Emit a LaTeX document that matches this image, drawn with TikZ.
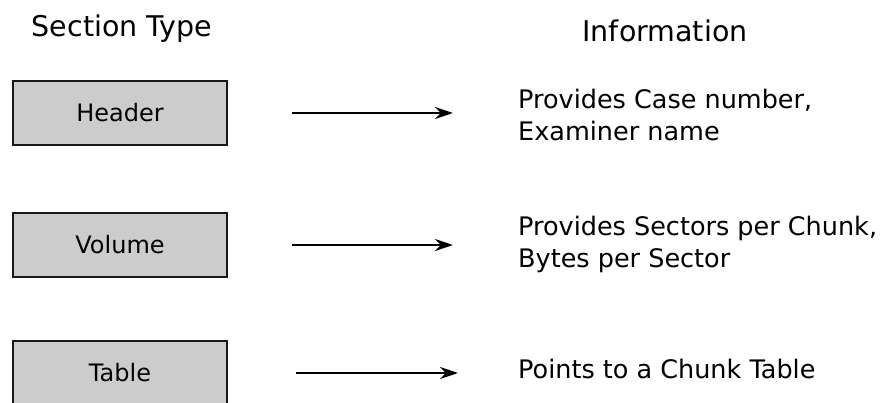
\documentclass[tikz,border=0pt]{standalone}
\usepackage{fontspec}
\setmainfont{DejaVu Sans}
\usetikzlibrary{arrows.meta}
\begin{document}
\begin{tikzpicture}[x=1pt,y=-1pt,
        secbox/.style={draw=black!90,fill=black!20,line width=2.4pt,minimum width=214pt,
            minimum height=64pt,inner sep=0pt,font=\fontsize{24}{29}\selectfont},
        infotext/.style={anchor=north west,inner sep=0pt,align=left,
            font=\fontsize{25.5}{32}\selectfont},
        colhead/.style={anchor=base,inner sep=0pt,font=\fontsize{28.5}{34}\selectfont},
        pointer/.style={line width=2.4pt,-{Stealth[length=18pt,width=12pt,inset=6pt]},
            shorten <=64pt,shorten >=65pt}]
    \useasboundingbox(0,0)rectangle(880,403);
    % column headings
    \node[colhead](typehead)at(122,37){Section Type};
    \node[colhead](infohead)at(665,42){Information};
    % section boxes
    \node[secbox](hdr)at(120,113){Header};
    \node[secbox](vol)at(120,245){Volume};
    \node[secbox](tbl)at(120,373){Table};
    % what each section holds
    \node[infotext](hdrinfo)at(518,89){Provides Case number,\\Examiner name};
    \node[infotext](volinfo)at(518,216){Provides Sectors per Chunk,\\Bytes per Sector};
    \node[infotext](tblinfo)at(518,359){Points to a Chunk Table};
    \draw[pointer](hdr.east)--(hdr.east-|hdrinfo.west);
    \draw[pointer](vol.east)--(vol.east-|volinfo.west);
    \draw[pointer,shorten <=68pt,shorten >=60pt](tbl.east)--(tbl.east-|tblinfo.west);
\end{tikzpicture}
\end{document}
